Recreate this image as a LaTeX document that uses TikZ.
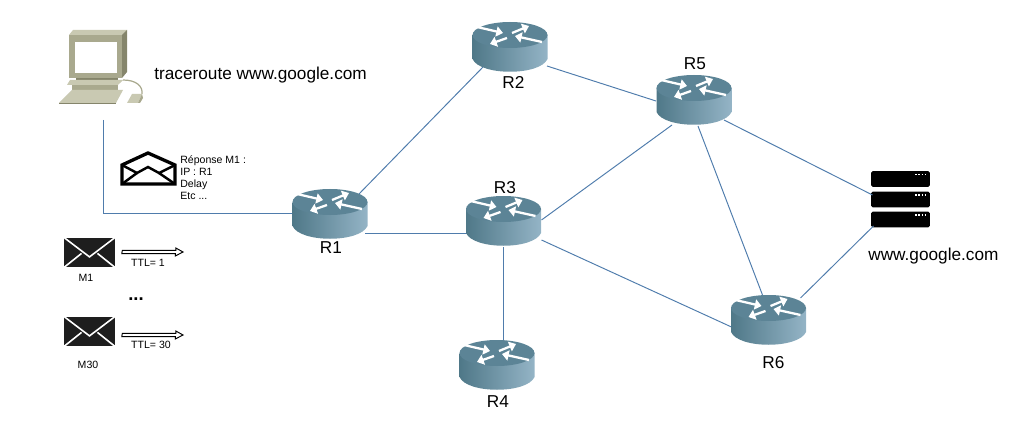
\documentclass[tikz,border=0pt]{standalone}
\usepackage{fontspec}
\setmainfont{Liberation Sans}
\usetikzlibrary{arrows.meta, positioning}

\definecolor{linkblue}{HTML}{4F7CAC}
\definecolor{routertop}{HTML}{5C8496}
\definecolor{routerleft}{HTML}{4F7888}
\definecolor{routerright}{HTML}{94B4C6}
\definecolor{pclight}{HTML}{C9C9B2}
\definecolor{pcmid}{HTML}{A9A98E}
\definecolor{pcdark}{HTML}{85856B}
\definecolor{mailblack}{HTML}{1E1E1E}

\tikzset{
    link/.style={linkblue, line width=0.55pt},
    routerspot/.style={inner sep=0pt, minimum width=43pt, minimum height=29pt},
    routerarrow/.style={white, line width=1.3pt, -{Triangle[length=3.8pt, width=5.8pt]}},
    biglabel/.style={font=\fontsize{9.8}{12}\selectfont, inner sep=0pt},
    smalllabel/.style={font=\fontsize{6}{6.8}\selectfont, inner sep=0pt},
    mailbox/.style={fill=mailblack, inner sep=0pt, minimum width=29pt, minimum height=17pt,
        path picture={
            \draw[white, line width=0.9pt]
                (path picture bounding box.north west) -- ++(14.5pt,-11pt) -- (path picture bounding box.north east);
            \draw[white, line width=0.9pt]
                (path picture bounding box.south west) -- ++(10pt,8pt);
            \draw[white, line width=0.9pt]
                (path picture bounding box.south east) -- ++(-10pt,8pt);
        }},
    ttlarrow/.style={fill=white, line width=0.55pt, line join=miter},
    serverbox/.style={fill=black, rounded corners=1pt, inner sep=0pt, minimum width=33.5pt, minimum height=9pt},
    serverdots/.style={white, line width=0.8pt, dash pattern=on 0.9pt off 0.9pt},
    router/.pic={
        \path[left color=routerleft, right color=routerright]
            (-37.5,12) -- (-37.5,-12) .. controls (-30,-29) and (30,-29) .. (37.5,-12) -- (37.5,12) -- cycle;
        \fill[routertop] (0,12) ellipse [x radius=37.5, y radius=13];
        \draw[routerarrow] (-33,20) -- (-7,14);
        \draw[routerarrow] (2,14) -- (19,21);
        \draw[routerarrow] (32,5) -- (5,11);
        \draw[routerarrow] (-3,9) -- (-20,3);
    },
}

\begin{document}
\begin{tikzpicture}[x=0.02cm, y=0.02cm]
    \useasboundingbox (0,0) rectangle (1019,420);

    % Routers (places only, drawn over the links further down)
    \node[routerspot] (R1) at (330,206) {};
    \node[routerspot] (R2) at (510,373) {};
    \node[routerspot] (R3) at (503.5,199) {};
    \node[routerspot] (R4) at (497,55) {};
    \node[routerspot] (R5) at (694,320) {};
    \node[routerspot] (R6) at (768.5,100) {};

    % Server
    \node[serverbox] (srv1) at (900.5,241) {};
    \node[serverbox] (srv2) at (900.5,220.5) {};
    \node[serverbox] (srv3) at (900.5,200.5) {};
    \draw[serverdots] ([shift={(-15,4.5)}]srv1.east) -- ([shift={(-4,4.5)}]srv1.east);
    \draw[serverdots] ([shift={(-15,4.5)}]srv2.east) -- ([shift={(-4,4.5)}]srv2.east);
    \draw[serverdots] ([shift={(-15,4.5)}]srv3.east) -- ([shift={(-4,4.5)}]srv3.east);

    % Computer
    \fill[pclight] (69,385) -- (73,390) -- (127,390) -- (122,385) -- cycle;
    \fill[pcdark] (122,385) -- (127,390) -- (127,348) -- (122,342) -- cycle;
    \fill[pcmid] (69,342) rectangle (122,385);
    \fill[white] (75,347) rectangle (117,378);
    \fill[pcdark] (76,342) rectangle (118,339);
    \fill[pclight] (67,335) -- (70,340) -- (123,340) -- (118,335) -- cycle;
    \fill[pcmid] (72,330) rectangle (118,335);
    \fill[pclight] (59,317) -- (72,330) -- (123,330) -- (116,317) -- cycle;
    \fill[pcdark] (59,317) rectangle (116,316);
    \draw[pcmid, line width=0.7pt] (123,340) .. controls (136,340) and (143,334) .. (142,326);
    \fill[pclight] (127,317) -- (132,326) -- (142,326) -- (138,317) -- cycle;
    \fill[pcmid] (138,317) -- (142,326) -- (143,322) -- (140,317) -- cycle;
    \coordinate (pcport) at (103.5,300);

    % Links
    \draw[link] (pcport) |- ([shift={(-38,0.5)}]R1.center);
    \draw[link] ([shift={(28,19)}]R1.center) -- ([shift={(-26,-19)}]R2.center);
    \draw[link] ([shift={(35,-19.5)}]R1.center) -- ([shift={(-37,-12.5)}]R3.center);
    \draw[link] ([shift={(37,-19)}]R2.center) -- ([shift={(-38,-1)}]R5.center);
    \draw[link] ([shift={(38,1)}]R3.center) -- ([shift={(-22,-25)}]R5.center);
    \draw[link] ([shift={(38,-19)}]R3.center) -- ([shift={(-37,-7)}]R6.center);
    \draw[link] ([shift={(0,-26)}]R3.center) -- ([shift={(6.5,25)}]R4.center);
    \draw[link] ([shift={(4,-26)}]R5.center) -- ([shift={(-6,25)}]R6.center);
    \draw[link] ([shift={(30,-20)}]R5.center) -- ([shift={(-28,4.5)}]srv2.center);
    \draw[link] ([shift={(32,22)}]R6.center) -- ([shift={(-27,-6.5)}]srv3.center);

    \pic at (R1) {router};
    \pic at (R2) {router};
    \pic at (R3) {router};
    \pic at (R4) {router};
    \pic at (R5) {router};
    \pic at (R6) {router};

    % Labels
    \node[biglabel] (lblR1) at (331,172) {R1};
    \node[biglabel] (lblR2) at (513.5,338) {R2};
    \node[biglabel] (lblR3) at (505,232) {R3};
    \node[biglabel] (lblR4) at (498,18) {R4};
    \node[biglabel] (lblR5) at (695,356) {R5};
    \node[biglabel] (lblR6) at (773.5,57) {R6};
    \node[biglabel, anchor=west] (cmd) at (154,344.5) {traceroute www.google.com};
    \node[biglabel, anchor=west] (lblsrv) at (868,164) {www.google.com};

    % Open envelope (reply)
    \draw[line width=1.9pt, line join=miter] (122,255) -- (148,267) -- (175,255) -- (175,236) -- (122,236) -- cycle;
    \draw[line width=1.4pt] (122,255) -- (137,247) -- (148,253) -- (159,247) -- (175,255);
    \draw[line width=1.4pt] (122,236) -- (137,247);
    \draw[line width=1.4pt] (175,236) -- (159,247);
    \node[smalllabel, anchor=west, align=left] (reply) at (180,242) {Réponse M1 :\\IP : R1\\Delay\\Etc ...};

    % Probes
    \node[mailbox] (mail1) at (89.5,167.5) {};
    \node[mailbox] (mail30) at (89.5,88.5) {};
    \coordinate (ttl1) at (183,168);
    \coordinate (ttl30) at (183,85);
    \draw[ttlarrow] ([shift={(7,2.2)}]mail1.east) -- ++(53.5,0) -- ++(0,2.3) -- (ttl1)
        -- ++(-7.7,-4) -- ++(0,2.3) -- ++(-53.5,0) -- cycle;
    \draw[ttlarrow] ([shift={(7,-1.8)}]mail30.east) -- ++(53.5,0) -- ++(0,2.3) -- (ttl30)
        -- ++(-7.7,-4) -- ++(0,2.3) -- ++(-53.5,0) -- cycle;
    \node[smalllabel] (lblttl1) at (148,157) {TTL= 1};
    \node[smalllabel] (lblttl30) at (151,75) {TTL= 30};
    \node[smalllabel] (lblm1) at (86,142) {M1};
    \node[smalllabel] (lblm30) at (88,55) {M30};
    \node[font=\bfseries\fontsize{10.5}{12}\selectfont, inner sep=0pt] (dots) at (136,121) {...};
\end{tikzpicture}
\end{document}
